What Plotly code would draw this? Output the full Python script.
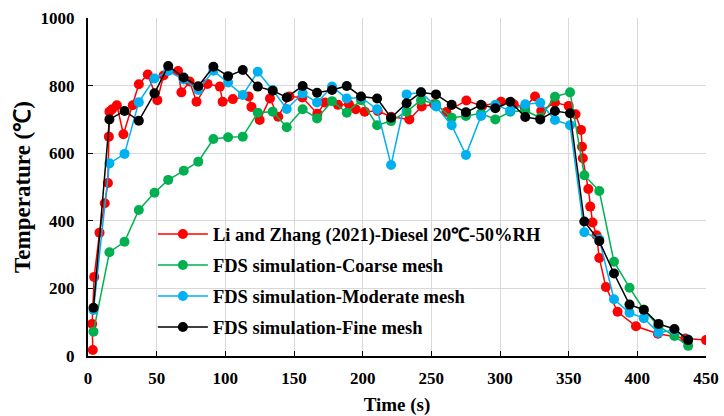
import plotly.graph_objects as go

# Experimental data: Li and Zhang (2021)
t_exp = [3.5, 3, 4.5, 8.4, 12.2, 14.5, 15.2, 15.6, 17.6, 21, 25.8, 32.6, 37, 43.5, 50.5, 55,
         65.6, 68, 74, 79, 87, 96, 98, 105.5, 117, 119, 125, 132.5, 138.5, 146.6, 156, 167,
         172.5, 182, 190, 195, 201.5, 211, 220.7, 234, 243, 252, 261, 275.5, 287, 300.7, 310,
         318, 325.5, 330, 340, 350, 355, 359, 359.7, 360.3, 364.3, 365.7, 367.4, 370.3, 372.3,
         377.1, 385.6, 399, 415, 435, 450]
T_exp = [18, 95, 234, 365, 452, 512, 649, 723, 730, 742, 656, 742, 804, 833, 757, 830,
         843, 780, 812, 752, 805, 797, 752, 760, 768, 737, 698, 762, 708, 768, 765, 717,
         750, 743, 745, 730, 723, 725, 708, 700, 738, 745, 722, 756, 740, 752, 745,
         735, 768, 725, 750, 740, 715, 669, 619, 585, 494, 442, 395, 357, 290,
         204, 131, 88, 66, 52, 47]

# Simulation output times (s)
t_sim = [4, 15.6, 26.6, 37, 48.4, 58.4, 69.7, 80.3, 91.3, 102, 112.7, 123.6, 134.5, 144.7,
         156.3, 166.8, 177.7, 188.4, 198.8, 210.5, 220.7, 232, 242.5, 253.4, 264.8, 275.2,
         286.2, 296.6, 307.5, 318.4, 329.3, 340, 351, 361.4, 372.3, 383, 394.3, 404.7, 415.4,
         427, 437]
T_coarse = [72, 307, 338, 432, 483, 521, 548, 575, 642, 647, 649, 720, 723, 677, 730, 703,
            754, 720, 757, 683, 695, 723, 757, 745, 705, 710, 718, 700, 723, 726, 705, 767,
            780, 535, 488, 279, 202, 137, 88, 59, 30]
T_moderate = [136, 570, 598, 751, 821, 843, 818, 787, 844, 809, 772, 841, 787, 731, 777, 750,
              797, 762, 765, 730, 565, 774, 780, 738, 683, 595, 710, 743, 726, 745, 749, 698,
              683, 366, 345, 168, 128, 112, 69, 77, 49]
T_fine = [143, 700, 725, 696, 777, 858, 824, 798, 856, 828, 846, 797, 785, 765, 799, 779,
          787, 799, 768, 762, 705, 748, 780, 774, 743, 721, 743, 733, 752, 707, 700, 725,
          718, 398, 340, 244, 152, 137, 95, 80, 47]

names = ["Li and Zhang (2021)-Diesel 20\u2103-50%RH",
         "FDS simulation-Coarse mesh",
         "FDS simulation-Moderate mesh",
         "FDS simulation-Fine mesh"]
colors = ["#ff0000", "#00b050", "#00b0f0", "#000000"]

series = [(t_exp, T_exp), (t_sim, T_coarse), (t_sim, T_moderate), (t_sim, T_fine)]

fig = go.Figure()
for i, ((xs, ys), nm, c) in enumerate(zip(series, names, colors)):
    fig.add_trace(go.Scatter(
        x=xs, y=ys, mode="lines+markers", name=nm, legendgroup=str(i),
        line=dict(color=c, width=1.5),
        marker=dict(color=c, size=10, line=dict(width=0)),
    ))

FONT = "Liberation Serif, Times New Roman, serif"
fig.update_layout(
    width=724, height=416,
    margin=dict(l=88, r=18, t=18, b=60, autoexpand=False),
    paper_bgcolor="white", plot_bgcolor="white",
    font=dict(family=FONT, size=17, color="black", weight="bold"),
    showlegend=True,
    legend=dict(x=0.105, y=0.416, xanchor="left", yanchor="top",
                bgcolor="rgba(0,0,0,0)", font=dict(family=FONT, size=18.5, color="black", weight="bold"),
                traceorder="grouped", tracegroupgap=4, itemwidth=50),
)
fig.update_xaxes(range=[0, 450], tickvals=list(range(0, 451, 50)),
                 showgrid=True, gridcolor="#d9d9d9", gridwidth=1,
                 showline=True, linecolor="black", linewidth=2,
                 ticks="inside", ticklen=5, tickcolor="black", ticklabelstandoff=6,
                 tickfont=dict(family=FONT, size=17, weight="bold"), automargin=False,
                 title=dict(text="Time (s)", font=dict(family=FONT, size=19, weight="bold"), standoff=10),
                 zeroline=False)
fig.update_yaxes(range=[0, 1000], tickvals=list(range(0, 1001, 200)),
                 showgrid=True, gridcolor="#d9d9d9", gridwidth=1,
                 showline=True, linecolor="black", linewidth=2,
                 ticks="inside", ticklen=5, tickcolor="black", ticklabelstandoff=8,
                 tickfont=dict(family=FONT, size=17, weight="bold"), automargin=False,
                 title=dict(text="Temperature (\u2103)", font=dict(family=FONT, size=23, weight="bold"), standoff=4),
                 zeroline=False)

fig.write_html("out.html")
